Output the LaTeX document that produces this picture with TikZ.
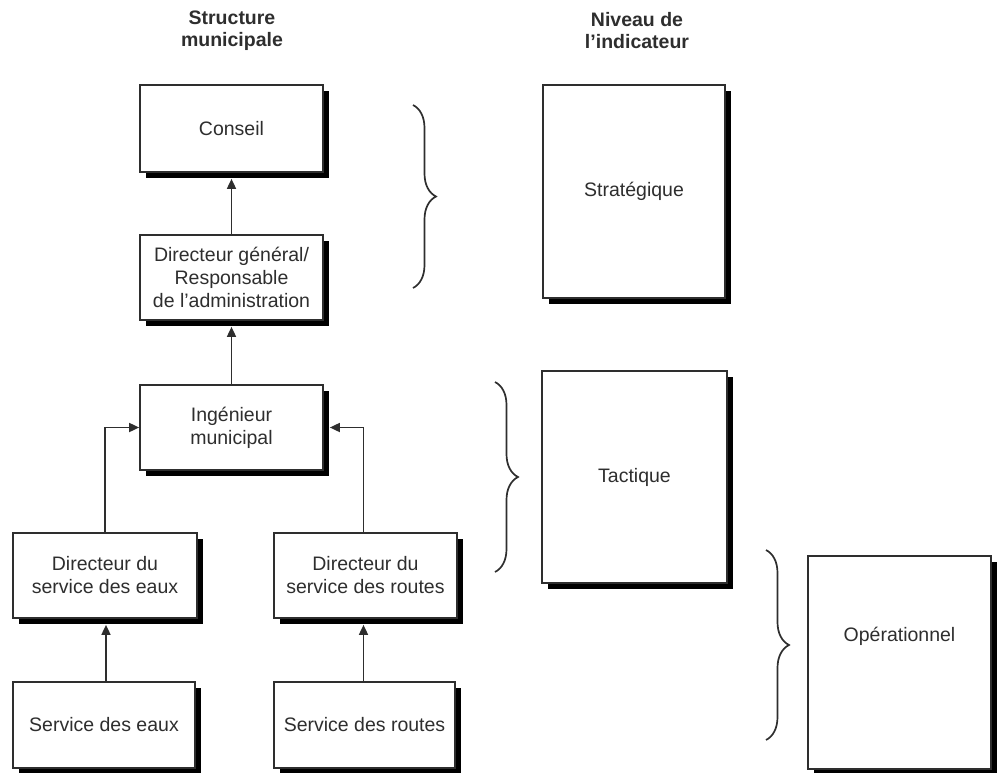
\documentclass[tikz,border=0pt]{standalone}
\usepackage{fontspec}
\setmainfont{Liberation Sans}
\usetikzlibrary{shadows,arrows.meta,decorations.pathreplacing}
\definecolor{ink}{HTML}{2E2E2E}
\begin{document}
\begin{tikzpicture}[x=1pt,y=-1pt,
  box/.style={draw=ink, line width=1.7pt, fill=white, text=ink, align=center,
    inner sep=0pt, font=\fontsize{19.5}{23}\selectfont,
    drop shadow={shadow xshift=6pt, shadow yshift=-6pt, opacity=1, fill=black}},
  lbl/.style={text=ink, align=center, inner sep=0pt, font=\fontsize{19.5}{23}\selectfont},
  arr/.style={draw=ink, line width=1.7pt, -{Triangle[length=10pt,width=9pt]}},
  brc/.style={draw=ink, line width=1.7pt, decorate, decoration={brace, amplitude=23pt}},
  hdr/.style={text=ink, align=center, font=\bfseries\fontsize{19.5}{22}\selectfont}]
\useasboundingbox (0,0) rectangle (997,772);

% headers
\node[hdr] (h1) at (232,31) {Structure\\municipale};
\node[hdr] (h2) at (637,31) {Niveau de\\l’indicateur};

% structure boxes
\node[box, minimum width=183pt, minimum height=87pt] (conseil) at (231.5,128.5) {Conseil};
\node[box, minimum width=183pt, minimum height=85pt] (dg) at (231.5,277.5) {Directeur général/\\Responsable\\de l’administration};
\node[box, minimum width=183pt, minimum height=85pt] (ing) at (231.5,427.5) {Ingénieur\\municipal};
\node[box, minimum width=184pt, minimum height=85pt] (deaux) at (105,575.5) {Directeur du\\service des eaux};
\node[box, minimum width=183pt, minimum height=85pt] (droutes) at (365.5,575.5) {Directeur du\\service des routes};
\node[box, minimum width=182pt, minimum height=86pt] (seaux) at (104,725) {Service des eaux};
\node[box, minimum width=181pt, minimum height=86pt] (sroutes) at (364.5,725) {Service des routes};

% level boxes
\node[box, minimum width=182pt, minimum height=213pt] (strat) at (634,191.5) {Stratégique};
\node[box, minimum width=185pt, minimum height=212pt] (tact) at (634.5,477) {Tactique};
\node[box, minimum width=183pt, minimum height=213pt] (oper) at (899.5,662.5) {};
\node[lbl] (operlbl) at ([yshift=26pt]oper.center) {Opérationnel};

% arrow end points (at the shadow edge)
\coordinate (conseilS) at ([yshift=-6pt]conseil.south);
\coordinate (dgS) at ([yshift=-6pt]dg.south);
\coordinate (deauxS) at ([yshift=-6pt]deaux.south);
\coordinate (droutesS) at ([yshift=-6pt]droutes.south);
\coordinate (ingR) at ([xshift=6pt]ing.east);

% connectors
\draw[arr] (dg.north) -- (conseilS);
\draw[arr] (ing.north) -- (dgS);
\draw[arr] (deaux.north) |- (ing.west);
\draw[arr] ([xshift=-2pt]droutes.north) |- (ingR);
\draw[arr] ([xshift=2pt]seaux.north) -- ([xshift=1pt]deauxS);
\draw[arr] ([xshift=-1pt]sroutes.north) -- ([xshift=-2pt]droutesS);

% braces
\coordinate (b1t) at (413,105); \coordinate (b1b) at (413,288);
\coordinate (b2t) at (495,382); \coordinate (b2b) at (495,572);
\coordinate (b3t) at (766,550); \coordinate (b3b) at (766,740);
\draw[brc] (b1t) -- (b1b);
\draw[brc] (b2t) -- (b2b);
\draw[brc] (b3t) -- (b3b);
\end{tikzpicture}
\end{document}
